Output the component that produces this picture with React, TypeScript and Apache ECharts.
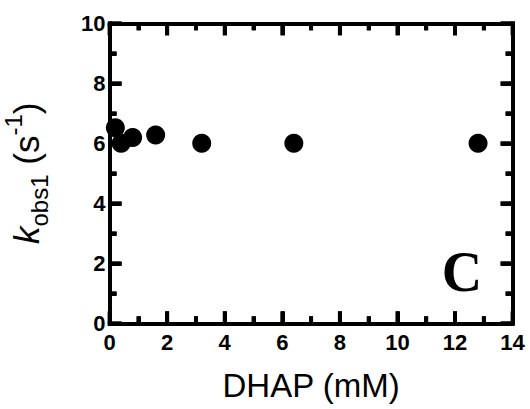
import React, { useEffect, useRef } from "react";
import * as echarts from "echarts";

const dhapMM = [0.2, 0.4, 0.8, 1.6, 3.2, 6.4, 12.8];
const kobs1 = [6.52, 6.0, 6.19, 6.28, 6.0, 6.0, 6.0];
const xRange = [0, 14];
const yRange = [0, 10];
const xMajorTicks = [0, 2, 4, 6, 8, 10, 12, 14];
const xMinorTicks = [1, 3, 5, 7, 9, 11, 13];
const yMajorTicks = [0, 2, 4, 6, 8, 10];
const yMinorTicks = [1, 3, 5, 7, 9];
const panelLabel = "C";

const SANS = "'Liberation Sans', Arial, sans-serif";
const SERIF = "'Liberation Serif', 'Times New Roman', serif";

const MAJOR_LEN = 12;
const MINOR_LEN = 7;
const TICK_W = 4;
const lineStyle = { color: "#000", width: 4, cap: "square" as const };

const labelStyle = {
  fontFamily: SANS,
  fontWeight: "bold" as const,
  fontSize: 22,
  color: "#000",
};

function frameAxis(position: string, range: number[], showLabel: boolean, margin: number) {
  return {
    type: "value" as const,
    position,
    min: range[0],
    max: range[1],
    interval: 2,
    axisLine: { show: true, onZero: false, lineStyle },
    axisTick: { show: true, inside: true, length: MAJOR_LEN, lineStyle: { color: "#000", width: TICK_W } },
    minorTick: { show: true, splitNumber: 2, length: MINOR_LEN, lineStyle: { color: "#000", width: TICK_W } },
    splitLine: { show: false },
    axisLabel: showLabel ? { ...labelStyle, margin } : { show: false },
  };
}

export default function App() {
  const ref = useRef<HTMLDivElement>(null);
  useEffect(() => {
    if (!ref.current) return;
    const chart = echarts.init(ref.current, null, { renderer: "svg" });
    const data = dhapMM.map((x, i) => [x, kobs1[i]]);
    chart.setOption({
      animation: false,
      grid: {
        left: 109.6,
        right: 17.4,
        top: 23.3,
        bottom: 85.7,
        show: false,
        containLabel: false,
        outerBoundsMode: "none",
      },
      xAxis: [
        {
          ...frameAxis("bottom", xRange, true, 8),
          name: "DHAP (mM)",
          nameLocation: "middle",
          nameGap: 46,
          nameTextStyle: { fontFamily: SANS, fontSize: 33, color: "#000" },
        },
        frameAxis("top", xRange, false, 0),
      ],
      yAxis: [
        {
          ...frameAxis("left", yRange, true, 4),
          name: "{k|k}{sub|obs1}{n| (s}{sup|-1}{n|)}",
          nameLocation: "middle",
          nameRotate: 90,
          nameGap: 58,
          nameTextStyle: {
            fontFamily: SANS,
            color: "#000",
            rich: {
              k: { fontFamily: SANS, fontStyle: "italic", fontSize: 35, lineHeight: 50, color: "#000" },
              n: { fontFamily: SANS, fontSize: 35, lineHeight: 50, color: "#000" },
              sub: { fontFamily: SANS, fontSize: 24, lineHeight: 3, verticalAlign: "bottom", color: "#000" },
              sup: { fontFamily: SANS, fontSize: 24, lineHeight: 33, verticalAlign: "top", color: "#000" },
            },
          },
        },
        frameAxis("right", yRange, false, 0),
      ],
      series: [
        {
          type: "scatter",
          data,
          symbol: "circle",
          symbolSize: 19,
          z: 4,
          itemStyle: { color: "#000", opacity: 1 },
        },
      ],
      graphic: [
        {
          type: "text",
          x: 462,
          y: 272,
          style: {
            text: panelLabel,
            font: `bold 56px ${SERIF}`,
            fill: "#000",
            textAlign: "center",
            textVerticalAlign: "middle",
          },
        },
      ],
    });

    // Inward ticks on all four sides, placed through the chart's own scales.
    const px = (x: number, y: number) =>
      chart.convertToPixel({ gridIndex: 0 }, [x, y]) as number[];
    const tickRects: any[] = [];
    const addX = (ticks: number[], len: number) => {
      ticks.forEach((v) => {
        const b = px(v, yRange[0]);
        const t = px(v, yRange[1]);
        tickRects.push({ type: "rect", z: 100, shape: { x: b[0] - TICK_W / 2, y: b[1] - len, width: TICK_W, height: len }, style: { fill: "#000" } });
        tickRects.push({ type: "rect", z: 100, shape: { x: t[0] - TICK_W / 2, y: t[1], width: TICK_W, height: len }, style: { fill: "#000" } });
      });
    };
    const addY = (ticks: number[], len: number) => {
      ticks.forEach((v) => {
        const l = px(xRange[0], v);
        const r = px(xRange[1], v);
        tickRects.push({ type: "rect", z: 100, shape: { x: l[0], y: l[1] - TICK_W / 2, width: len, height: TICK_W }, style: { fill: "#000" } });
        tickRects.push({ type: "rect", z: 100, shape: { x: r[0] - len, y: r[1] - TICK_W / 2, width: len, height: TICK_W }, style: { fill: "#000" } });
      });
    };
    addX(xMajorTicks, MAJOR_LEN);
    addX(xMinorTicks, MINOR_LEN);
    addY(yMajorTicks, MAJOR_LEN);
    addY(yMinorTicks, MINOR_LEN);
    chart.setOption({
      graphic: [
        {
          type: "text",
          x: 462,
          y: 272,
          style: {
            text: panelLabel,
            font: `bold 56px ${SERIF}`,
            fill: "#000",
            textAlign: "center",
            textVerticalAlign: "middle",
          },
        },
        ...tickRects,
      ],
    });
    return () => chart.dispose();
  }, []);
  return (
    <div style={{ position: "absolute", left: 0, top: 0 }}>
      <div ref={ref} style={{ width: 530, height: 409 }} />
    </div>
  );
}
